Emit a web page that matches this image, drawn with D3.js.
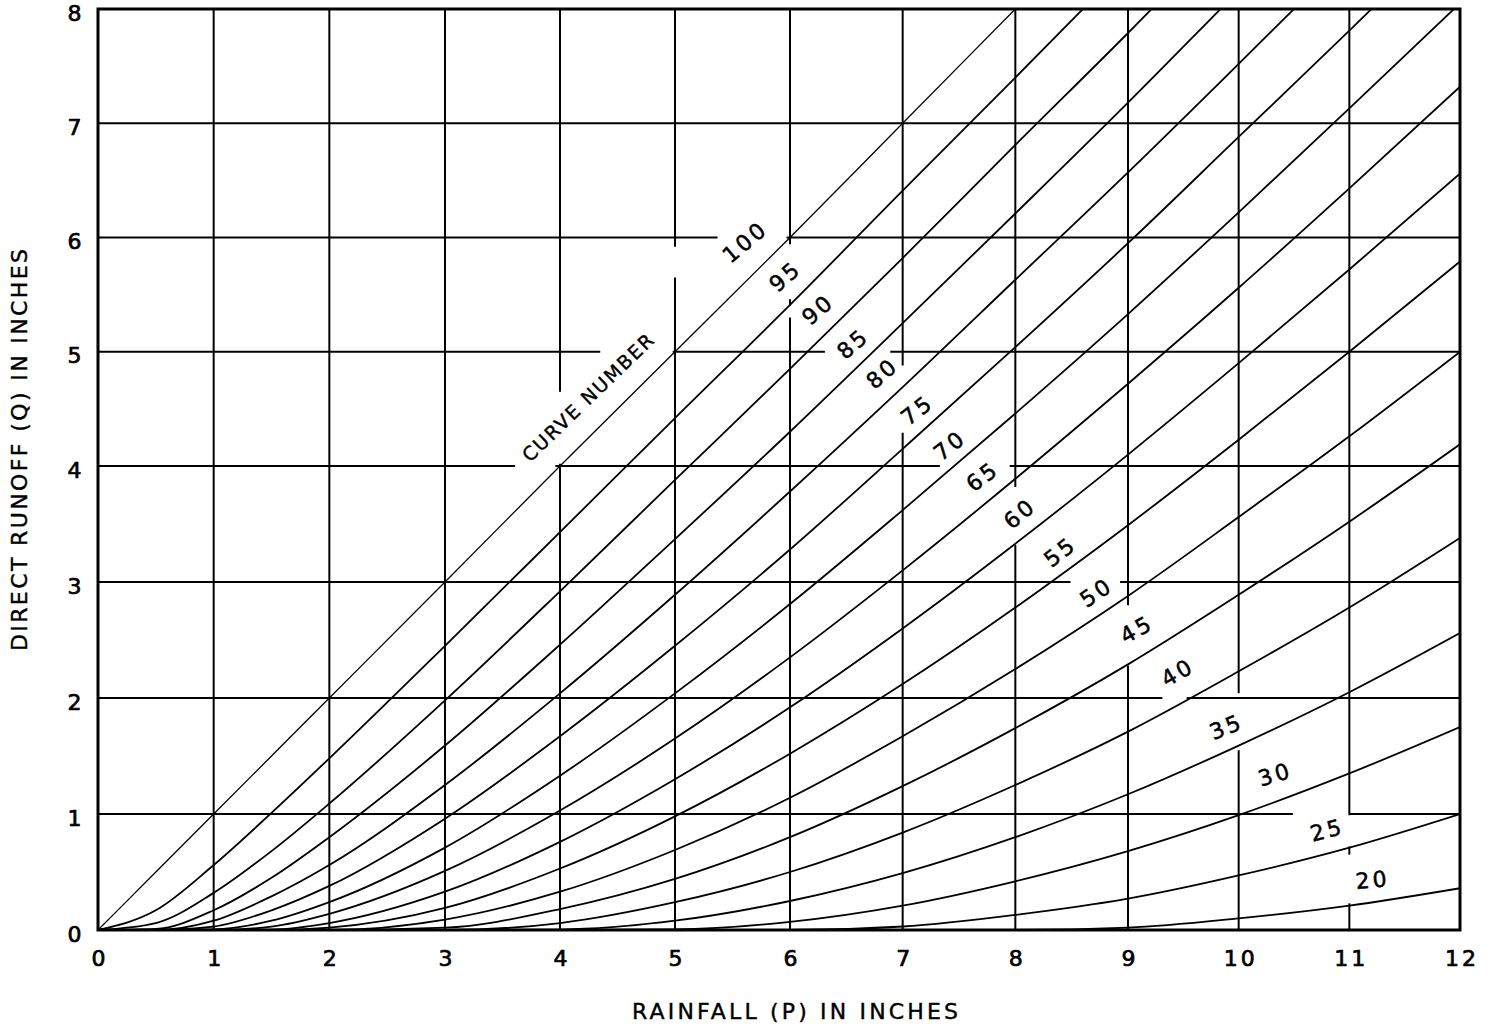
<!DOCTYPE html>
<html><head><meta charset="utf-8">
<script src="https://cdn.jsdelivr.net/npm/d3@7/dist/d3.min.js"></script>
<style>body{margin:0;background:#fff} svg{display:block}</style>
</head><body>
<svg id="chart" width="1492" height="1036"></svg>
<script>
// ---- data ----
const rainfall = [0, 0.5, 1, 1.5, 2, 3, 4, 5, 6, 7, 8, 9, 10, 11, 12];
const q100 = [0, 0.5, 1, 1.5, 2, 3, 4, 5, 6, 7, 8, 9, 10, 11, 12];
const q95 = [0, 0.17, 0.56, 1.01, 1.48, 2.45, 3.43, 4.42, 5.41, 6.41, 7.40, 8.40, 9.39, 10.39, 11.39];
const q90 = [0, 0.06, 0.32, 0.68, 1.09, 1.98, 2.92, 3.88, 4.85, 5.82, 6.81, 7.79, 8.78, 9.77, 10.76];
const q85 = [0, 0.01, 0.17, 0.45, 0.80, 1.59, 2.46, 3.37, 4.30, 5.25, 6.21, 7.18, 8.16, 9.13, 10.11];
const q80 = [0, 0, 0.08, 0.29, 0.56, 1.25, 2.04, 2.89, 3.78, 4.69, 5.63, 6.57, 7.52, 8.48, 9.45];
const q75 = [0, 0, 0.03, 0.17, 0.38, 0.96, 1.67, 2.45, 3.28, 4.15, 5.04, 5.95, 6.88, 7.81, 8.76];
const q70 = [0, 0, 0.005, 0.08, 0.24, 0.71, 1.33, 2.04, 2.81, 3.62, 4.46, 5.33, 6.22, 7.13, 8.05];
const q65 = [0, 0, 0, 0.03, 0.14, 0.51, 1.03, 1.65, 2.35, 3.10, 3.89, 4.72, 5.56, 6.43, 7.32];
const q60 = [0, 0, 0, 0.004, 0.06, 0.33, 0.76, 1.30, 1.92, 2.60, 3.33, 4.10, 4.90, 5.72, 6.56];
const q55 = [0, 0, 0, 0, 0.02, 0.19, 0.53, 0.98, 1.52, 2.12, 2.78, 3.49, 4.23, 5.00, 5.79];
const q50 = [0, 0, 0, 0, 0, 0.09, 0.33, 0.69, 1.14, 1.67, 2.25, 2.88, 3.56, 4.26, 5.00];
const q45 = [0, 0, 0, 0, 0, 0.02, 0.18, 0.44, 0.80, 1.24, 1.74, 2.29, 2.89, 3.52, 4.19];
const q40 = [0, 0, 0, 0, 0, 0, 0.06, 0.24, 0.50, 0.84, 1.25, 1.71, 2.23, 2.78, 3.38];
const q35 = [0, 0, 0, 0, 0, 0, 0.004, 0.08, 0.25, 0.49, 0.80, 1.17, 1.59, 2.05, 2.56];
const q30 = [0, 0, 0, 0, 0, 0, 0, 0.005, 0.07, 0.21, 0.42, 0.68, 0.99, 1.35, 1.75];
const q25 = [0, 0, 0, 0, 0, 0, 0, 0, 0, 0.03, 0.13, 0.27, 0.47, 0.71, 1.00];
const q20 = [0, 0, 0, 0, 0, 0, 0, 0, 0, 0, 0, 0.02, 0.10, 0.21, 0.36];
const curveNumbers = [100, 95, 90, 85, 80, 75, 70, 65, 60, 55, 50, 45, 40, 35, 30, 25, 20];
const runoffSeries = [q100, q95, q90, q85, q80, q75, q70, q65, q60, q55, q50, q45, q40, q35, q30, q25, q20];
const xTicks = [0, 1, 2, 3, 4, 5, 6, 7, 8, 9, 10, 11, 12];
const yTicks = [0, 1, 2, 3, 4, 5, 6, 7, 8];
const xTitle = "RAINFALL (P) IN INCHES";
const yTitle = "DIRECT RUNOFF (Q) IN INCHES";
const noteText = "CURVE NUMBER";

// ---- layout (label placement in data units, grid breaks behind labels) ----
const labelPlacement = [
  [100, 5.61, 5.96, -40], [95, 5.96, 5.66, -41], [90, 6.25, 5.37, -41], [85, 6.56, 5.07, -41],
  [80, 6.82, 4.81, -41], [75, 7.13, 4.49, -38], [70, 7.42, 4.18, -38], [65, 7.71, 3.91, -37],
  [60, 8.04, 3.59, -40], [55, 8.40, 3.26, -38], [50, 8.72, 2.91, -34], [45, 9.08, 2.59, -29],
  [40, 9.45, 2.22, -30], [35, 9.89, 1.75, -22], [30, 10.33, 1.34, -17], [25, 10.80, 0.86, -14],
  [20, 11.21, 0.43, -5]
];
const hBreaks = {6: [[5.37, 5.97]], 5: [[4.35, 4.98], [6.31, 6.89]], 4: [[3.61, 3.96], [7.33, 7.95]],
                 3: [[8.49, 8.93]], 2: [[9.31, 9.53]], 1: [[10.49, 11.0]]};
const vBreaks = {4: [[4.02, 4.65]], 5: [[5.65, 5.92]], 6: [[5.30, 5.40], [5.46, 5.94]], 7: [[4.29, 4.88]],
                 8: [[3.32, 3.82]], 9: [[2.28, 2.80]], 10: [[1.55, 2.04]], 11: [[0.23, 0.65], [0.72, 0.99]]};

const svg = d3.select("#chart");
const FONT = "'DejaVu Sans', Verdana, sans-serif";
const x = d3.scaleLinear().domain([0, 3, 6, 9, 12]).range([98, 445, 790, 1128, 1460]);
const y = d3.scaleLinear().domain([0, 4, 8]).range([930, 466, 9]);

function pieces(lo, hi, breaks) {
  const out = []; let s = lo;
  (breaks || []).slice().sort((a, b) => a[0] - b[0]).forEach(([a, b]) => { out.push([s, a]); s = b; });
  out.push([s, hi]);
  return out;
}

// grid
const grid = svg.append("g").attr("stroke", "#000").attr("stroke-width", 2).attr("fill", "none");
yTicks.filter(v => v > 0 && v < 8).forEach(v => {
  pieces(0, 12, hBreaks[v]).forEach(([a, b]) => {
    grid.append("line").attr("x1", x(a)).attr("x2", x(b)).attr("y1", y(v)).attr("y2", y(v));
  });
});
xTicks.filter(v => v > 0 && v < 12).forEach(v => {
  pieces(0, 8, vBreaks[v]).forEach(([a, b]) => {
    grid.append("line").attr("x1", x(v)).attr("x2", x(v)).attr("y1", y(a)).attr("y2", y(b));
  });
});

// curves
svg.append("clipPath").attr("id", "plotClip").append("rect")
  .attr("x", x(0)).attr("y", y(8)).attr("width", x(12) - x(0)).attr("height", y(0) - y(8));
const line = d3.line().x(d => x(d[0])).y(d => y(d[1])).curve(d3.curveMonotoneX);
const curves = svg.append("g").attr("clip-path", "url(#plotClip)");
curveNumbers.forEach((cn, i) => {
  const pts = rainfall.map((p, j) => [p, runoffSeries[i][j]]);
  curves.append("path").attr("d", line(pts)).attr("fill", "none").attr("stroke", "#000")
    .attr("stroke-width", cn === 100 ? 1.3 : 1.8).attr("stroke-linejoin", "round");
});

// frame
svg.append("rect").attr("x", x(0)).attr("y", y(8)).attr("width", x(12) - x(0)).attr("height", y(0) - y(8))
  .attr("fill", "none").attr("stroke", "#000").attr("stroke-width", 3);

// tick labels
const tickStyle = sel => sel.attr("text-anchor", "middle").attr("dominant-baseline", "central")
  .attr("font-family", FONT).style("font-size", "22px").attr("stroke", "#000").attr("stroke-width", 0.7)
  .attr("letter-spacing", 3);
svg.append("g").selectAll("text").data(xTicks).join("text")
  .attr("x", d => x(d) + 2).attr("y", 958).call(tickStyle).text(d => d);
svg.append("g").selectAll("text").data(yTicks).join("text")
  .attr("x", 76).attr("y", d => y(d) + 4).call(tickStyle).text(d => d);

// axis titles
svg.append("text").attr("x", 795).attr("y", 1019).attr("text-anchor", "middle")
  .attr("font-family", FONT).style("font-size", "22px").attr("stroke", "#000").attr("stroke-width", 0.4)
  .attr("textLength", 326).attr("lengthAdjust", "spacing").text(xTitle);
svg.append("text").attr("transform", "translate(27,450) rotate(-90)").attr("text-anchor", "middle")
  .attr("font-family", FONT).style("font-size", "22px").attr("stroke", "#000").attr("stroke-width", 0.4)
  .attr("textLength", 402).attr("lengthAdjust", "spacing").text(yTitle);

// curve labels
const lab = svg.append("g");
labelPlacement.forEach(([cn, p, q, ang]) => {
  lab.append("text").attr("transform", `translate(${x(p)},${y(q)}) rotate(${ang})`)
    .attr("text-anchor", "middle").attr("dominant-baseline", "central")
    .attr("font-family", FONT).style("font-size", "22px").attr("stroke", "#000").attr("stroke-width", 0.5)
    .attr("letter-spacing", 3).text(cn);
});
lab.append("text").attr("transform", `translate(${x(4.24)},${y(4.60)}) rotate(-44)`)
  .attr("text-anchor", "middle").attr("dominant-baseline", "central")
  .attr("font-family", FONT).style("font-size", "19px").attr("stroke", "#000").attr("stroke-width", 0.4)
  .attr("textLength", 174).attr("lengthAdjust", "spacing").text(noteText);
</script>
</body></html>
